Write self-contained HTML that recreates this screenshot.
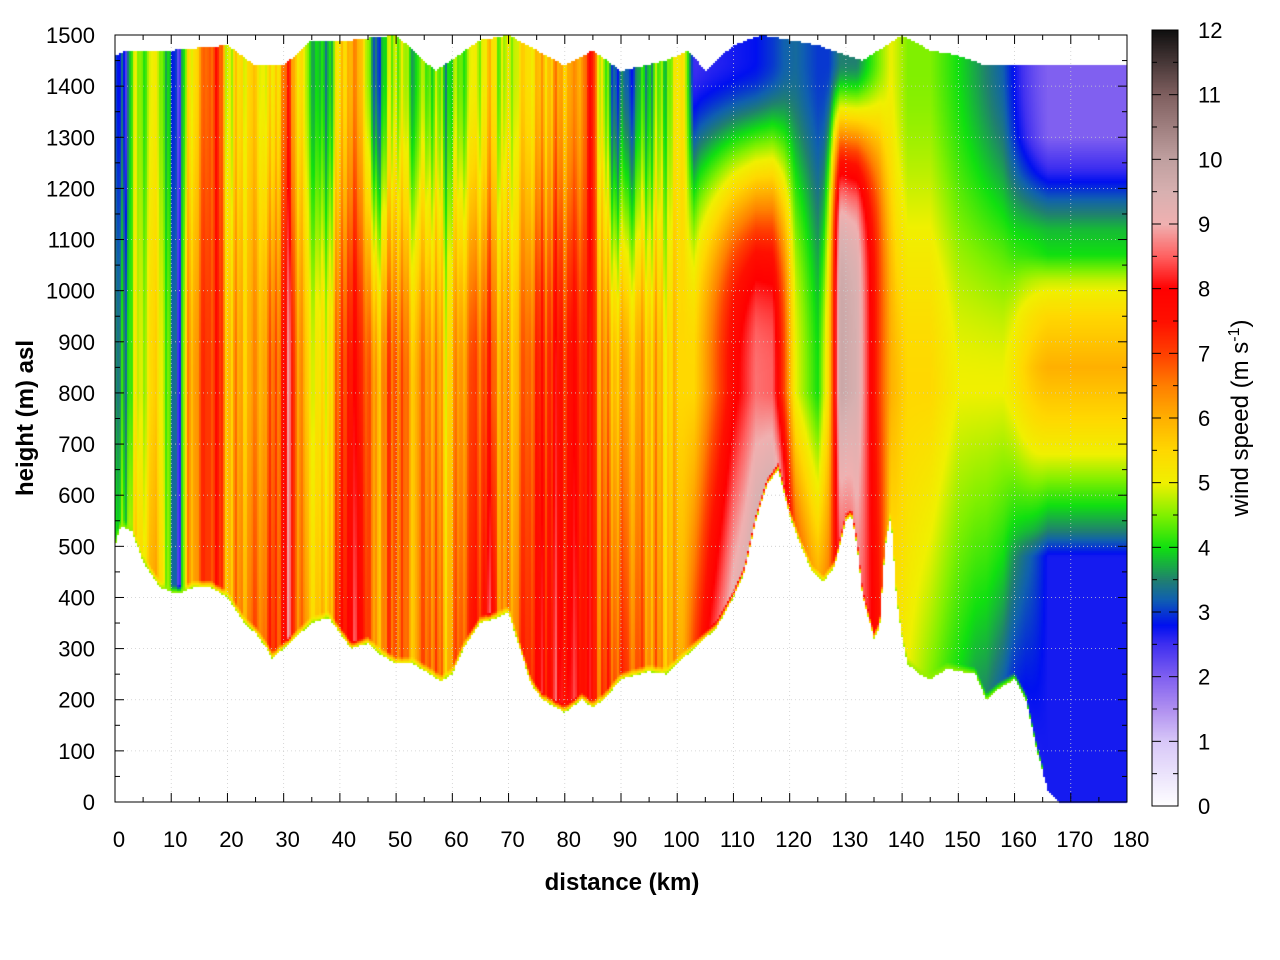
<!DOCTYPE html>
<html><head><meta charset="utf-8">
<style>
body{margin:0;background:#fff;width:1280px;height:960px;overflow:hidden;font-family:"Liberation Sans",sans-serif;}
#c{position:absolute;left:0;top:0;}
#s{position:absolute;left:0;top:0;}
</style></head><body>
<canvas id="c" width="1280" height="960"></canvas>
<svg id="s" width="1280" height="960" xmlns="http://www.w3.org/2000/svg" font-family="Liberation Sans, sans-serif"></svg>
<script>
const X0=115,X1=1127,Y0=35,Y1=802;
const xk=k=>X0+(X1-X0)*k/180, yh=h=>Y1-(Y1-Y0)*h/1500;
function interp(tab,x){if(x<=tab[0][0])return tab[0].slice(1);for(let i=1;i<tab.length;i++){if(x<=tab[i][0]){const a=tab[i-1],b=tab[i],t=(x-a[0])/(b[0]-a[0]);return a.slice(1).map((v,j)=>v+(b[j+1]-v)*t);}}return tab[tab.length-1].slice(1);}
const G=[[0,500],[1,540],[3,530],[5,470],[8,420],[10,410],[12,410],[14,420],[17,420],[20,400],[23,350],[25,330],[27,300],[28,280],[30,300],[32,320],[35,350],[38,360],[40,330],[42,300],[45,310],[47,290],[50,270],[53,270],[56,250],[58,235],[60,250],[62,300],[65,350],[68,360],[70,370],[72,300],[74,230],[76,200],[80,175],[83,200],[85,185],[87,200],[90,240],[95,255],[98,250],[100,270],[102,290],[104,310],[107,340],[110,400],[112,450],[114,550],[116,620],[118,650],[120,560],[122,500],[124,450],[126,430],[128,460],[130,550],[131,560],[132,500],[133,400],[135,320],[136,340],[137,500],[138,560],[139,400],[140,320],[141,270],[143,250],[145,240],[148,260],[153,250],[155,200],[157,220],[160,240],[162,200],[164,100],[166,20],[168,0],[180,0]];
const T=[[0,1460],[2,1470],[10,1470],[20,1480],[25,1440],[30,1440],[35,1490],[42,1490],[50,1500],[57,1430],[65,1490],[70,1500],[80,1440],[85,1470],[90,1430],[98,1450],[102,1470],[105,1430],[110,1480],[115,1500],[125,1480],[133,1450],[140,1500],[145,1470],[150,1460],[155,1440],[160,1440],[166,1440],[180,1440]];
const S=[[0,3.5,3,2.5],[2,4.5,4,3],[3,5,4.5,4.5],[5,5.5,5,4.5],[8,6,5.5,5],[10,3.5,3.5,3],[11.5,2.8,3,2.8],[13,6,6,5],[16,7,7,6.5],[18,7.5,7.5,7.5],[20,6,6,5],[24,6.5,6,5.5],[28,7,6.5,5],[30,7.5,7.5,6.5],[31,8.5,8.5,7],[32,7,7,6],[34,6,5.5,4.5],[37,5.5,5,3.5],[39,6.5,6,4.5],[41,8,7.5,6],[44,8,7.5,6],[46,6,6,3],[50,7,7,5],[53,6,6,4],[56,7,6.5,4.5],[59,6,5.5,4],[62,7,6.5,4.5],[65,7.5,7,5],[67,8,7,5.5],[69,6,6,4.5],[71,6.5,6,5],[74,7.5,7,5.5],[78,8,7.5,6],[82,8,7.5,6],[85,7.5,7.5,7.5],[86,7,6.5,5.5],[88,7,6,3.5],[91,7,6,3],[95,6.5,6,4],[99,6,5.5,4.5],[101,6,5.5,5.5],[103,7,5.5,2.5],[106,8.2,6.5,2.6],[110,9.2,7.8,2.7],[114,9.6,8.6,2.8],[117,9.5,8.5,3],[119,8.5,7,3.2],[121,6.8,5,3.3],[125,6,4,3],[127,6.5,5.5,3],[129,8.5,9.8,3.5],[132,8.8,9.5,3.5],[134,8.2,8.2,4],[136,7.5,7,4.5],[138,5.5,6,5],[141,5,5.5,4.5],[145,4.5,5.5,4.5],[150,4,5,4],[155,3.5,5,3.5],[160,3,5,3],[165,2.5,5.5,2.5],[180,2.5,5.5,2.5]];
const P=[[0,1],[100,1],[104,1.5],[120,1.5],[126,1],[128,2.5],[136,2.5],[139,1],[180,1]];
const R=[[0,2.7],[480,2.7],[530,3.5],[580,4],[630,4.5],[680,5],[750,5.5],[850,6],[950,5.5],[1020,4.8],[1070,4],[1120,3.8],[1170,3.3],[1230,2.6],[1300,2],[1440,2]];
const CM=[[0,[255,255,255]],[1,[216,200,248]],[1.5,[176,144,240]],[2,[128,96,240]],[2.5,[64,48,240]],[2.8,[0,16,240]],[3.2,[16,96,176]],[3.5,[32,128,112]],[4,[16,224,16]],[4.5,[128,240,0]],[5,[240,240,0]],[5.5,[255,216,0]],[6,[255,176,0]],[6.5,[255,128,0]],[7,[255,64,0]],[7.5,[255,16,0]],[8,[255,0,0]],[8.5,[255,96,96]],[9,[240,176,176]],[9.5,[216,176,176]],[10,[192,160,160]],[11,[128,96,96]],[12,[16,16,16]]];
function col(v){v=Math.max(0,Math.min(12,v));for(let i=1;i<CM.length;i++){if(v<=CM[i][0]){const a=CM[i-1],b=CM[i],t=(v-a[0])/(b[0]-a[0]);return a[1].map((c,j)=>Math.round(c+(b[1][j]-c)*t));}}return CM[CM.length-1][1];}
function speed(k,h,g){const [s0,s1,s2]=interp(S,k);const p=interp(P,k)[0];let v;
 if(h<800){const t=Math.max(0,(h-g)/Math.max(50,800-g));v=s0+(s1-s0)*t;}else{let t=(h-800)/650;t=Math.pow(Math.min(1,t),p);t=t*t*(3-2*t);v=s1+(s2-s1)*t;}
 if(k<100){v+=0.35*Math.sin(k*2.1)+0.25*Math.sin(k*5.3+1)+0.15*Math.sin(k*11.7);}
 if(k>158){const r=interp(R,h)[0];const w=Math.min(1,(k-158)/8);v=v*(1-w)+r*w;}
 const d=h-g;if(d<14&&k<165){const t=d/14;v=v*t+4.6*(1-t);}
 return v;}
const ctx=document.getElementById('c').getContext('2d');
for(let px=X0;px<X1;px+=2){const k=(px+1-X0)/(X1-X0)*180;const g=interp(G,k)[0],tp=interp(T,k)[0];
 for(let py=Y0;py<Y1;py+=2){const h=(Y1-py-1)/(Y1-Y0)*1500;if(h<g||h>tp)continue;const c=col(speed(k,h,g));ctx.fillStyle=`rgb(${c[0]},${c[1]},${c[2]})`;ctx.fillRect(px,py,2,2);}}
for(let py=30;py<806;py++){const v=(806-py)/(806-30)*12;const c=col(v);ctx.fillStyle=`rgb(${c[0]},${c[1]},${c[2]})`;ctx.fillRect(1152,py,26,1);}
let s='';
for(let k=10;k<180;k+=10)s+=`<line x1="${xk(k)}" y1="${Y0}" x2="${xk(k)}" y2="${Y1}" stroke="#ccc" stroke-dasharray="1,3" stroke-width="0.8"/>`;
for(let h=100;h<1500;h+=100)s+=`<line x1="${X0}" y1="${yh(h)}" x2="${X1}" y2="${yh(h)}" stroke="#ccc" stroke-dasharray="1,3" stroke-width="0.8"/>`;
s+=`<rect x="${X0}" y="${Y0}" width="${X1-X0}" height="${Y1-Y0}" fill="none" stroke="#000" stroke-width="1"/>`;
for(let k=0;k<=180;k+=5){const L=k%10==0?9:5,x=xk(k);s+=`<line x1="${x}" y1="${Y1}" x2="${x}" y2="${Y1-L}" stroke="#000"/><line x1="${x}" y1="${Y0}" x2="${x}" y2="${Y0+L}" stroke="#000"/>`;if(k%10==0)s+=`<text x="${x+4}" y="847" font-size="22" text-anchor="middle">${k}</text>`;}
for(let h=0;h<=1500;h+=50){const L=h%100==0?9:5,y=yh(h);s+=`<line x1="${X0}" y1="${y}" x2="${X0+L}" y2="${y}" stroke="#000"/><line x1="${X1}" y1="${y}" x2="${X1-L}" y2="${y}" stroke="#000"/>`;if(h%100==0)s+=`<text x="95" y="${y+8}" font-size="22" text-anchor="end">${h}</text>`;}
s+=`<rect x="1152" y="30" width="26" height="776" fill="none" stroke="#000"/>`;
for(let v=0;v<=12;v+=0.5){const y=806-v*776/12,L=v%1==0?9:5;s+=`<line x1="1152" y1="${y}" x2="${1152+L}" y2="${y}" stroke="#000"/><line x1="1178" y1="${y}" x2="${1178-L}" y2="${y}" stroke="#000"/>`;if(v%1==0)s+=`<text x="1198" y="${y+8}" font-size="22">${v}</text>`;}
s+=`<text x="622" y="890" font-size="24" font-weight="bold" text-anchor="middle">distance (km)</text>`;
s+=`<text transform="translate(33,418) rotate(-90)" font-size="24" font-weight="bold" text-anchor="middle">height (m) asl</text>`;
s+=`<text transform="translate(1248,418) rotate(-90)" font-size="24" text-anchor="middle">wind speed (m s<tspan dy="-9" font-size="16">-1</tspan><tspan dy="9">)</tspan></text>`;
document.getElementById('s').innerHTML=s;
</script>
</body></html>
